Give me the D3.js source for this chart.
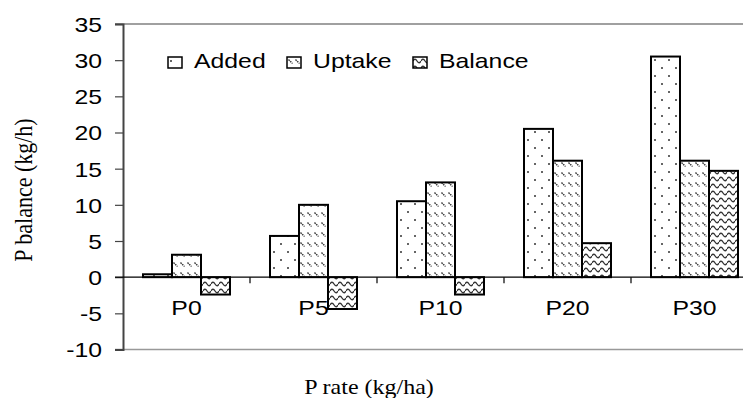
<!DOCTYPE html>
<html>
<head>
<meta charset="utf-8">
<script src="https://cdn.jsdelivr.net/npm/d3@7"></script>
<style>
  body { margin: 0; background: #fff; }
  svg { display: block; }
</style>
</head>
<body>
<div id="chart"></div>
<script>
// data
var categories = ["P0", "P5", "P10", "P20", "P30"];
var seriesNames = ["Added", "Uptake", "Balance"];
var added = [0.4, 5.7, 10.5, 20.5, 30.5];
var uptake = [3.1, 10.0, 13.1, 16.1, 16.1];
var balance = [-2.4, -4.4, -2.4, 4.7, 14.7];
var yTicks = [35, 30, 25, 20, 15, 10, 5, 0, -5, -10];

var svgWidth = 743;
var svgHeight = 398;
var stretch = 1.24; // text in the picture is a bit wide

var svg = d3.select("#chart")
  .append("svg")
  .attr("width", svgWidth)
  .attr("height", svgHeight);

// fill patterns
var defs = svg.append("defs");

var pAdded = defs.append("pattern")
  .attr("id", "pat-added")
  .attr("patternUnits", "userSpaceOnUse")
  .attr("width", 14).attr("height", 16);
pAdded.append("rect").attr("width", 14).attr("height", 16).attr("fill", "#fff");
pAdded.append("circle").attr("cx", 3).attr("cy", 4).attr("r", 1).attr("fill", "#333");
pAdded.append("circle").attr("cx", 10).attr("cy", 12).attr("r", 1).attr("fill", "#333");

var pUptake = defs.append("pattern")
  .attr("id", "pat-uptake")
  .attr("patternUnits", "userSpaceOnUse")
  .attr("width", 7).attr("height", 10);
pUptake.append("rect").attr("width", 7).attr("height", 10).attr("fill", "#fff");
pUptake.append("path")
  .attr("d", "M1.5,2.5 L5.5,6.5")
  .attr("stroke", "#333")
  .attr("stroke-width", 1.4)
  .attr("stroke-dasharray", "1.6,0.8");

var pBalance = defs.append("pattern")
  .attr("id", "pat-balance")
  .attr("patternUnits", "userSpaceOnUse")
  .attr("width", 8).attr("height", 7);
pBalance.append("rect").attr("width", 8).attr("height", 7).attr("fill", "#fff");
pBalance.append("path")
  .attr("d", "M0,4 Q2,0.5 4,4 Q6,7.5 8,4")
  .attr("fill", "none")
  .attr("stroke", "#333")
  .attr("stroke-width", 1.3);

var fills = ["url(#pat-added)", "url(#pat-uptake)", "url(#pat-balance)"];

// scales
var x0 = d3.scaleBand()
  .domain(categories)
  .range([123, 758]);

var x1 = d3.scaleBand()
  .domain(seriesNames)
  .range([20, 107]);

var y = d3.scaleLinear()
  .domain([-10, 35])
  .range([349.5, 24]);

// frame lines (top and bottom of plot area)
svg.append("line")
  .attr("x1", 115).attr("x2", svgWidth)
  .attr("y1", y(35)).attr("y2", y(35))
  .attr("stroke", "#808080").attr("stroke-width", 1.5);
svg.append("line")
  .attr("x1", 115).attr("x2", svgWidth)
  .attr("y1", y(-10)).attr("y2", y(-10))
  .attr("stroke", "#999").attr("stroke-width", 1.5);

// y axis
var yAxis = d3.axisLeft(y)
  .tickValues(yTicks)
  .tickFormat(d => String(d))
  .tickSize(8);
var yG = svg.append("g")
  .attr("transform", "translate(123,0)")
  .call(yAxis);
yG.select(".domain").attr("stroke", "#444").attr("stroke-width", 2);
yG.selectAll(".tick line").attr("stroke", "#444").attr("stroke-width", 1.2);
yG.selectAll(".tick text")
  .attr("font-family", "'Liberation Sans', Arial, sans-serif")
  .attr("font-size", 20)
  .attr("fill", "#000")
  .attr("x", null)
  .attr("transform", "translate(-21,1) scale(" + stretch + ",1)");

// bars
var rows = categories.map(function(c, i) {
  return { cat: c, values: [added[i], uptake[i], balance[i]] };
});

var groups = svg.selectAll(".grp")
  .data(rows)
  .enter()
  .append("g")
  .attr("class", "grp")
  .attr("transform", d => "translate(" + x0(d.cat) + ",0)");

groups.selectAll("rect")
  .data(d => d.values.map((v, k) => ({ name: seriesNames[k], value: v, k: k })))
  .enter()
  .append("rect")
  .attr("x", d => x1(d.name))
  .attr("width", x1.bandwidth())
  .attr("y", d => y(Math.max(0, d.value)))
  .attr("height", d => Math.abs(y(d.value) - y(0)))
  .attr("fill", d => fills[d.k])
  .attr("stroke", "#000")
  .attr("stroke-width", 2);

// zero line with category ticks
svg.append("line")
  .attr("x1", 115).attr("x2", svgWidth)
  .attr("y1", y(0)).attr("y2", y(0))
  .attr("stroke", "#000").attr("stroke-width", 1.4);

svg.selectAll(".ctick")
  .data(categories.slice(1))
  .enter()
  .append("line")
  .attr("x1", d => x0(d)).attr("x2", d => x0(d))
  .attr("y1", y(0)).attr("y2", y(0) + 6)
  .attr("stroke", "#000").attr("stroke-width", 1.2);

// category labels
svg.selectAll(".clab")
  .data(categories)
  .enter()
  .append("text")
  .attr("text-anchor", "middle")
  .attr("font-family", "'Liberation Sans', Arial, sans-serif")
  .attr("font-size", 20)
  .attr("transform", d => "translate(" + (x0(d) + x0.bandwidth() / 2) + ",315) scale(" + stretch + ",1)")
  .text(d => d);

// legend
var legendX = [168, 287, 413];
var legend = svg.selectAll(".leg")
  .data(seriesNames)
  .enter()
  .append("g")
  .attr("transform", (d, i) => "translate(" + legendX[i] + ",57)");
legend.append("rect")
  .attr("width", 14).attr("height", 11)
  .attr("fill", (d, i) => fills[i])
  .attr("stroke", "#000").attr("stroke-width", 1.5);
legend.append("text")
  .attr("font-family", "'Liberation Sans', Arial, sans-serif")
  .attr("font-size", 20)
  .attr("transform", "translate(26,11) scale(" + stretch + ",1)")
  .text(d => d);

// axis titles
svg.append("text")
  .attr("text-anchor", "middle")
  .attr("font-family", "'Liberation Serif', 'Times New Roman', serif")
  .attr("font-size", 22)
  .attr("transform", "translate(32,190) rotate(-90) scale(1,1.1)")
  .text("P balance (kg/h)");

svg.append("text")
  .attr("text-anchor", "middle")
  .attr("font-family", "'Liberation Serif', 'Times New Roman', serif")
  .attr("font-size", 20)
  .attr("transform", "translate(369,394) scale(1.2,1)")
  .text("P rate (kg/ha)");
</script>
</body>
</html>
